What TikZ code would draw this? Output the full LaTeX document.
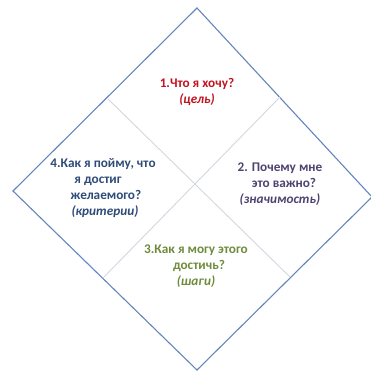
\documentclass[tikz,border=0pt]{standalone}
\usepackage{fontspec}
\setmainfont{Carlito}
\definecolor{edgeblue}{HTML}{6486BA}
\definecolor{innergray}{HTML}{D2D6DE}
\definecolor{qred}{HTML}{C0141E}
\definecolor{qpurple}{HTML}{4E4270}
\definecolor{qgreen}{HTML}{6E8C3C}
\definecolor{qblue}{HTML}{2F4B78}
\begin{document}
\begin{tikzpicture}[x=1bp,y=-1bp,
  outer/.style={draw=edgeblue,line width=1.1bp,line join=miter},
  inner/.style={draw=innergray,line width=0.9bp},
  qtext/.style={font=\fontsize{13.3}{16.3}\selectfont\bfseries,align=center,inner sep=0pt}]
\useasboundingbox (0,0) rectangle (371,371);
\coordinate (T) at (197,8);
\coordinate (R) at (372,197);
\coordinate (B) at (197,370);
\coordinate (L) at (13,191);
\draw[outer] (T) -- (R) -- (B) -- (L) -- cycle;
\coordinate (a1) at (108,99);
\coordinate (a2) at (290,277);
\coordinate (b1) at (280,97);
\coordinate (b2) at (103,278);
\draw[inner] (a1) -- (a2);
\draw[inner] (b1) -- (b2);
\node[qtext,text=qred] (q1) at (197,92) {1.Что я хочу?\\\textit{(цель)}};
\node[qtext,text=qpurple] (q2) at (280,184) {2. Почему мне\\\hspace*{8bp}это важно?\\\textit{(значимость)}};
\node[qtext,text=qgreen] (q3) at (196,266) {3.Как я могу этого\\\hspace*{6bp}достичь?\\\textit{(шаги)}};
\node[qtext,text=qblue] (q4) at (103,188) {4.Как я пойму, что\\\hspace*{-10bp}я достиг\\\hspace*{6bp}желаемого?\\\hspace*{4bp}\textit{(критерии)}};
\end{tikzpicture}
\end{document}
